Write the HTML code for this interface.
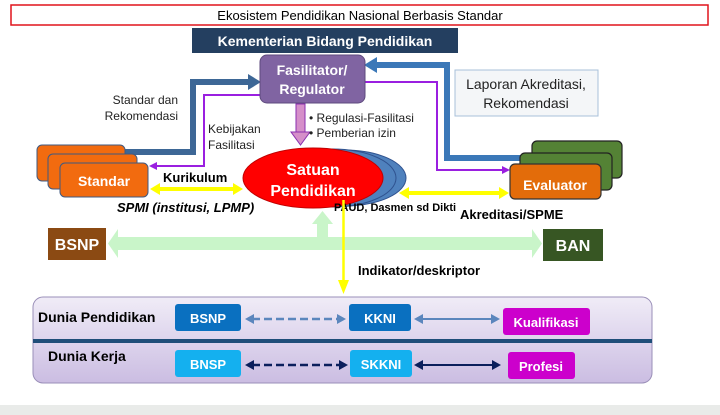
<!DOCTYPE html>
<html><head><meta charset="utf-8"><style>
body{margin:0;background:#fff;}
svg{display:block;font-family:"Liberation Sans",sans-serif;}
</style></head><body>
<svg width="720" height="415" viewBox="0 0 720 415" xmlns="http://www.w3.org/2000/svg">
<defs>
<linearGradient id="pg" x1="0" y1="0" x2="0" y2="1"><stop offset="0" stop-color="#f0ecf7"/><stop offset="1" stop-color="#cbbde2"/></linearGradient>
</defs>
<rect x="0" y="0" width="720" height="415" fill="#fff"/>
<rect x="0" y="405" width="720" height="10" fill="#e9ebe9"/>
<!-- title -->
<rect x="11" y="5" width="697" height="20" fill="#fff" stroke="#e0141c" stroke-width="1.5"/>
<text x="360" y="20" font-size="13" text-anchor="middle" fill="#000">Ekosistem Pendidikan Nasional Berbasis Standar</text>
<rect x="192" y="28" width="266" height="25" fill="#243f60"/>
<text x="325" y="46" font-size="14" font-weight="bold" text-anchor="middle" fill="#fff">Kementerian Bidang Pendidikan</text>
<!-- blue thick arrows -->
<polyline points="125,152 193,152 193,82 250,82" fill="none" stroke="#3d6796" stroke-width="6"/>
<polygon points="248,74 261,82 248,90" fill="#3d6796"/>
<polyline points="532,158 447,158 447,65 375,65" fill="none" stroke="#3b78b8" stroke-width="6"/>
<polygon points="377,57 364,65 377,73" fill="#3b78b8"/>
<!-- purple thin arrows -->
<polyline points="260,95 204,95 204,166 156,166" fill="none" stroke="#9a1fe0" stroke-width="2"/>
<polygon points="157,162 149,166 157,170" fill="#9a1fe0"/>
<polyline points="365,82 437,82 437,170 503,170" fill="none" stroke="#9a1fe0" stroke-width="2"/>
<polygon points="502,166 510,170 502,174" fill="#9a1fe0"/>
<!-- laporan -->
<rect x="455" y="70" width="143" height="46" fill="#f4f6f8" stroke="#a8c0da" stroke-width="1"/>
<text x="526" y="89" font-size="14" text-anchor="middle" fill="#222">Laporan Akreditasi,</text>
<text x="526" y="108" font-size="14" text-anchor="middle" fill="#222">Rekomendasi</text>
<!-- fasilitator -->
<rect x="260" y="55" width="105" height="48" rx="7" fill="#8064a2" stroke="#5e4a7e" stroke-width="1"/>
<text x="312" y="75" font-size="14" font-weight="bold" text-anchor="middle" fill="#fff">Fasilitator/</text>
<text x="312" y="94" font-size="14" font-weight="bold" text-anchor="middle" fill="#fff">Regulator</text>
<!-- down arrow -->
<rect x="296" y="104" width="9" height="28" fill="#d58fc9" stroke="#8a2fb0" stroke-width="1"/>
<polygon points="291,132 310,132 300.5,145" fill="#d58fc9" stroke="#8a2fb0" stroke-width="1"/>
<text x="309" y="122" font-size="12" fill="#222">• Regulasi-Fasilitasi</text>
<text x="309" y="137" font-size="12" fill="#222">• Pemberian izin</text>
<text x="178" y="104" font-size="12" text-anchor="end" fill="#222">Standar dan</text>
<text x="178" y="120" font-size="12" text-anchor="end" fill="#222">Rekomendasi</text>
<text x="208" y="133" font-size="12" fill="#222">Kebijakan</text>
<text x="208" y="149" font-size="12" fill="#222">Fasilitasi</text>
<!-- standar stack -->
<rect x="37" y="145" width="88" height="36" rx="5" fill="#f26b0f" stroke="#3f5a82" stroke-width="1"/>
<rect x="48" y="154" width="89" height="35" rx="5" fill="#f26b0f" stroke="#3f5a82" stroke-width="1"/>
<rect x="60" y="163" width="88" height="34" rx="5" fill="#f26b0f" stroke="#3f5a82" stroke-width="1"/>
<text x="104" y="186" font-size="14" font-weight="bold" text-anchor="middle" fill="#fff">Standar</text>
<!-- evaluator stack -->
<rect x="532" y="141" width="90" height="37" rx="5" fill="#548235" stroke="#222" stroke-width="1.2"/>
<rect x="520" y="153" width="92" height="37" rx="5" fill="#548235" stroke="#222" stroke-width="1.2"/>
<rect x="510" y="164" width="91" height="35" rx="5" fill="#e36c0a" stroke="#333" stroke-width="1.2"/>
<text x="555" y="190" font-size="14" font-weight="bold" text-anchor="middle" fill="#fff">Evaluator</text>
<!-- yellow arrows -->
<line x1="160" y1="189" x2="234" y2="189" stroke="#ffff00" stroke-width="4"/>
<polygon points="160,183 150,189 160,195" fill="#ffff00"/>
<polygon points="233,183 243,189 233,195" fill="#ffff00"/>
<text x="163" y="182" font-size="13" font-weight="bold" fill="#000">Kurikulum</text>
<line x1="408" y1="193" x2="500" y2="193" stroke="#ffff00" stroke-width="4"/>
<polygon points="409,187 399,193 409,199" fill="#ffff00"/>
<polygon points="499,187 509,193 499,199" fill="#ffff00"/>
<!-- ellipses -->
<ellipse cx="344" cy="178" rx="62" ry="28" fill="#4f81bd" stroke="#2f528f" stroke-width="1"/>
<ellipse cx="332" cy="178" rx="64" ry="29" fill="#4f81bd" stroke="#2f528f" stroke-width="1"/>
<ellipse cx="313" cy="178" rx="70" ry="30" fill="#ff0000" stroke="#c00000" stroke-width="1"/>
<text x="313" y="175" font-size="16" font-weight="bold" text-anchor="middle" fill="#fff">Satuan</text>
<text x="313" y="196" font-size="16" font-weight="bold" text-anchor="middle" fill="#fff">Pendidikan</text>
<text x="117" y="212" font-size="13" font-weight="bold" font-style="italic" fill="#000">SPMI (institusi, LPMP)</text>
<text x="334" y="211" font-size="11" font-weight="bold" fill="#000">PAUD, Dasmen sd Dikti</text>
<text x="460" y="219" font-size="13" font-weight="bold" fill="#000">Akreditasi/SPME</text>
<!-- green arrow -->
<rect x="116" y="237" width="418" height="13" fill="#c9f5c9"/>
<polygon points="118,229 108,243.5 118,258" fill="#c9f5c9"/>
<polygon points="532,229 542,243.5 532,258" fill="#c9f5c9"/>
<rect x="317" y="222" width="11" height="16" fill="#c9f5c9"/>
<polygon points="312,224 322.5,211 333,224" fill="#c9f5c9"/>
<!-- yellow vertical -->
<line x1="343.5" y1="200" x2="343.5" y2="284" stroke="#ffff00" stroke-width="2.5"/>
<polygon points="338,280 349,280 343.5,294" fill="#ffff00"/>
<text x="358" y="275" font-size="13" font-weight="bold" fill="#000">Indikator/deskriptor</text>
<rect x="48" y="228" width="58" height="32" fill="#8b4a13"/>
<text x="77" y="250" font-size="16" font-weight="bold" text-anchor="middle" fill="#fff">BSNP</text>
<rect x="543" y="229" width="60" height="32" fill="#375623"/>
<text x="573" y="251" font-size="16" font-weight="bold" text-anchor="middle" fill="#fff">BAN</text>
<!-- bottom panel -->
<rect x="33" y="297" width="619" height="86" rx="10" fill="url(#pg)" stroke="#9a8fb8" stroke-width="1"/>
<line x1="33" y1="341" x2="652" y2="341" stroke="#1f4e79" stroke-width="4"/>
<text x="38" y="322" font-size="14" font-weight="bold" fill="#000">Dunia Pendidikan</text>
<text x="48" y="361" font-size="14" font-weight="bold" fill="#000">Dunia Kerja</text>
<rect x="175" y="304" width="66" height="27" rx="3" fill="#0a70c0"/>
<text x="208" y="323" font-size="13" font-weight="bold" text-anchor="middle" fill="#fff">BSNP</text>
<rect x="349" y="304" width="62" height="27" rx="3" fill="#0a70c0"/>
<text x="380" y="323" font-size="13" font-weight="bold" text-anchor="middle" fill="#fff">KKNI</text>
<rect x="503" y="308" width="87" height="27" rx="3" fill="#cc00cc"/>
<text x="546" y="327" font-size="13" font-weight="bold" text-anchor="middle" fill="#fff">Kualifikasi</text>
<rect x="175" y="350" width="66" height="27" rx="3" fill="#14b0ef"/>
<text x="208" y="369" font-size="13" font-weight="bold" text-anchor="middle" fill="#fff">BNSP</text>
<rect x="350" y="350" width="62" height="27" rx="3" fill="#14b0ef"/>
<text x="381" y="369" font-size="13" font-weight="bold" text-anchor="middle" fill="#fff">SKKNI</text>
<rect x="508" y="352" width="67" height="27" rx="3" fill="#cc00cc"/>
<text x="541" y="371" font-size="13" font-weight="bold" text-anchor="middle" fill="#fff">Profesi</text>
<!-- bottom arrows -->
<line x1="252" y1="319" x2="338" y2="319" stroke="#5b86bd" stroke-width="2.5" stroke-dasharray="8,4"/>
<polygon points="254,314 245,319 254,324" fill="#5b86bd"/>
<polygon points="337,314 346,319 337,324" fill="#5b86bd"/>
<line x1="420" y1="319" x2="493" y2="319" stroke="#5b86bd" stroke-width="2"/>
<polygon points="423,314 414,319 423,324" fill="#5b86bd"/>
<polygon points="491,314 500,319 491,324" fill="#5b86bd"/>
<line x1="252" y1="365" x2="340" y2="365" stroke="#0b1f5c" stroke-width="2.5" stroke-dasharray="8,4"/>
<polygon points="254,360 245,365 254,370" fill="#0b1f5c"/>
<polygon points="339,360 348,365 339,370" fill="#0b1f5c"/>
<line x1="420" y1="365" x2="494" y2="365" stroke="#0b1f5c" stroke-width="2"/>
<polygon points="423,360 414,365 423,370" fill="#0b1f5c"/>
<polygon points="492,360 501,365 492,370" fill="#0b1f5c"/>
</svg>
</body></html>
